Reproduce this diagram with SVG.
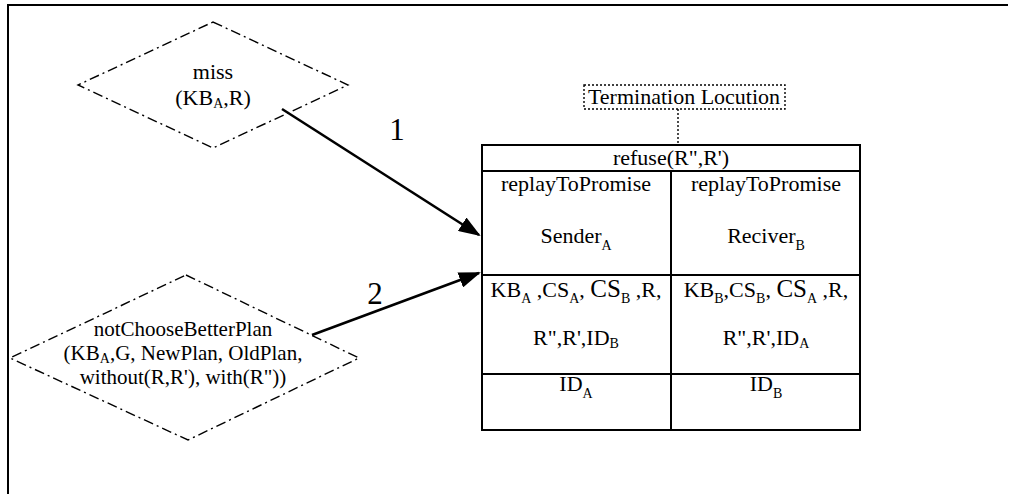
<svg xmlns="http://www.w3.org/2000/svg" width="1009" height="494" viewBox="0 0 1009 494">
<style>
text{font-family:"Liberation Serif","Times New Roman",serif;font-size:22px;fill:#000;text-anchor:middle}
.d2{font-size:21px}
.dd{fill:none;stroke:#000;stroke-width:1.4;stroke-dasharray:10 4 2 4}
.cell{fill:none;stroke:#000;stroke-width:2}
.conn{fill:none;stroke:#000;stroke-width:2.6}
.sub{font-size:14px}
.big{font-size:25px}
.num{font-size:31px}
</style>
<defs>
<marker id="ah" markerWidth="22" markerHeight="16" refX="20" refY="8" orient="auto" markerUnits="userSpaceOnUse">
<path d="M0,0 L22,8 L0,16 Z" fill="#000"/>
</marker>
</defs>
<rect width="1009" height="494" fill="#fff"/>
<g id="frame">
<path d="M7,5 H1008 M8,5 V494" fill="none" stroke="#000" stroke-width="2"/>
</g>
<g id="node-miss">
<polygon class="dd" points="213,22 348,85 213,148 78,85"/>
<text x="213" y="79">miss</text>
<text x="213" y="105">(KB<tspan class="sub" dy="3">A</tspan><tspan dy="-3">,R)</tspan></text>
</g>
<g id="node-notChoose">
<polygon class="dd" points="186,275 359,358 188,440 10,358"/>
<text class="d2" x="183" y="336">notChooseBetterPlan</text>
<text class="d2" x="183" y="360">(KB<tspan class="sub" dy="3">A</tspan><tspan dy="-3">,G, NewPlan, OldPlan,</tspan></text>
<text class="d2" x="183" y="384">without(R,R'), with(R"))</text>
</g>
<g id="node-termination">
<rect x="584" y="85" width="201" height="24" fill="none" stroke="#000" stroke-width="1.4" stroke-dasharray="2 2"/>
<text x="684" y="104">Termination Locution</text>
<line x1="678" y1="109" x2="678" y2="145" stroke="#000" stroke-width="1.4" stroke-dasharray="2 2"/>
</g>
<g id="node-table">
<rect class="cell" x="482" y="145" width="378" height="285"/>
<line class="cell" x1="482" y1="171" x2="860" y2="171"/>
<line class="cell" x1="482" y1="275" x2="860" y2="275"/>
<line class="cell" x1="482" y1="374" x2="860" y2="374"/>
<line class="cell" x1="671" y1="171" x2="671" y2="430"/>
<text x="671" y="165">refuse(R",R')</text>
<text x="576" y="191">replayToPromise</text>
<text x="766" y="191">replayToPromise</text>
<text x="576" y="243">Sender<tspan class="sub" dy="7">A</tspan></text>
<text x="766" y="243">Reciver<tspan class="sub" dy="7">B</tspan></text>
<text x="576" y="297">KB<tspan class="sub" dy="6">A</tspan><tspan dy="-6"> ,CS</tspan><tspan class="sub" dy="6">A</tspan><tspan dy="-6">, </tspan><tspan class="big">CS</tspan><tspan class="sub" dy="6">B</tspan><tspan dy="-6"> ,R,</tspan></text>
<text x="766" y="297">KB<tspan class="sub" dy="6">B</tspan><tspan dy="-6">,CS</tspan><tspan class="sub" dy="6">B</tspan><tspan dy="-6">, </tspan><tspan class="big">CS</tspan><tspan class="sub" dy="6">A</tspan><tspan dy="-6"> ,R,</tspan></text>
<text x="576" y="345">R",R',ID<tspan class="sub" dy="3">B</tspan></text>
<text x="766" y="345">R",R',ID<tspan class="sub" dy="3">A</tspan></text>
<text x="576" y="391">ID<tspan class="sub" dy="7">A</tspan></text>
<text x="766" y="391">ID<tspan class="sub" dy="7">B</tspan></text>
</g>
<g id="connectors">
<line class="conn" x1="282" y1="109" x2="479" y2="235" marker-end="url(#ah)"/>
<line class="conn" x1="312" y1="335" x2="479" y2="273" marker-end="url(#ah)"/>
<text class="num" x="397" y="140">1</text>
<text class="num" x="375" y="304">2</text>
</g>
</svg>
